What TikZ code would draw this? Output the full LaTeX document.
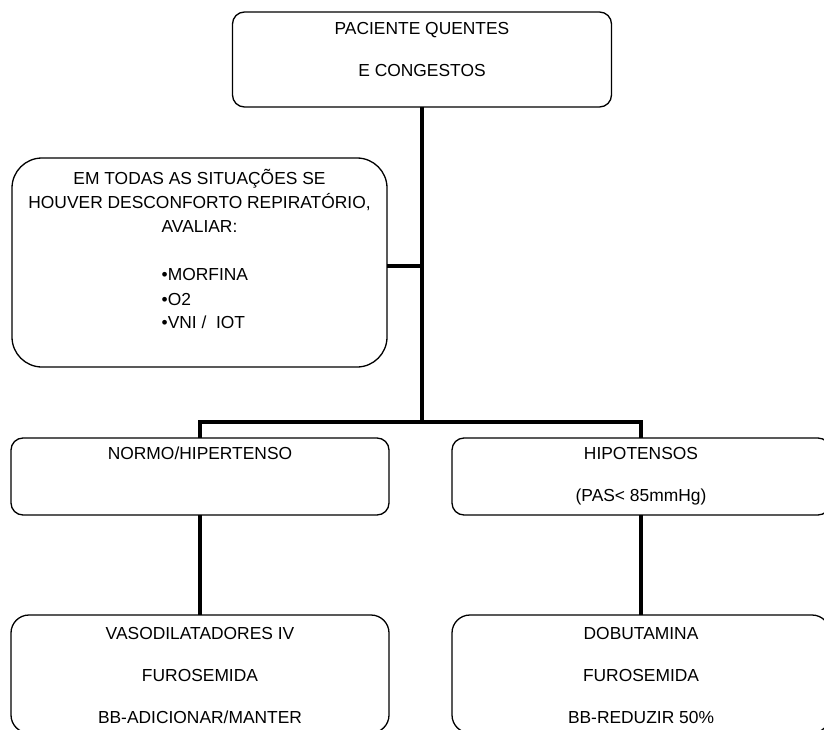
\documentclass[tikz,border=0pt]{standalone}
\usepackage{fontspec}
\setsansfont{Liberation Sans}
\tikzset{every picture/.style={/utils/exec={\sffamily}}}
\usetikzlibrary{positioning}
\newcommand{\rows}[2][c]{\begin{tabular}[t]{@{}#1@{}}#2\end{tabular}}

\begin{document}
\begin{tikzpicture}[x=1pt, y=-1pt,
    box/.style={draw, line width=1.3pt, rounded corners=12pt, inner sep=0pt,
      outer sep=0pt, minimum width=378pt, font=\fontsize{17.4}{24}\selectfont},
    link/.style={line width=4pt}]
  \path [use as bounding box, fill=white] (0,0) rectangle (824,730);

  \node [box, minimum width=379pt, text height=23pt, text depth=72pt] (top) at (422,59.5)
    {\rows{PACIENTE QUENTES\\[18pt]E CONGESTOS}};
  \node [box, minimum width=375pt, rounded corners=30pt, text height=27pt, text depth=182pt]
    (note) at (199.5,262.5)
    {\rows{EM TODAS AS SITUAÇÕES SE\\HOUVER DESCONFORTO REPIRATÓRIO,\\AVALIAR:\\[24pt]
      \hspace*{10.7pt}\rows[l]{•MORFINA\\•O2\\•VNI /\ \ IOT}}};

  \node [box, text height=21.5pt, text depth=55.5pt] (normo) at (200,476.5)
    {\rows{NORMO/HIPERTENSO}};
  \node [box, text height=21.5pt, text depth=55.5pt, right=63pt of normo] (hipo)
    {\rows{HIPOTENSOS\\[18pt](PAS< 85mmHg)}};
  \node [box, rounded corners=18pt, text height=24pt, text depth=94pt, below=100pt of normo] (vaso)
    {\rows{VASODILATADORES IV\\[18pt]FUROSEMIDA\\[18pt]BB-ADICIONAR/MANTER}};
  \node [box, rounded corners=18pt, text height=24pt, text depth=94pt, below=100pt of hipo] (dobu)
    {\rows{DOBUTAMINA\\[18pt]FUROSEMIDA\\[18pt]BB-REDUZIR 50\%}};

  % trunk and branches:
  \coordinate (bus) at (422,422);
  \coordinate (tap) at (422,266);
  \draw [link] (top) -- (bus);
  \draw [link] (note.east |- tap) -- (tap);
  \draw [link] (normo) |- (bus) -| (hipo);
  \draw [link] (normo) -- (vaso);
  \draw [link] (hipo) -- (dobu);

\end{tikzpicture}
\end{document}
